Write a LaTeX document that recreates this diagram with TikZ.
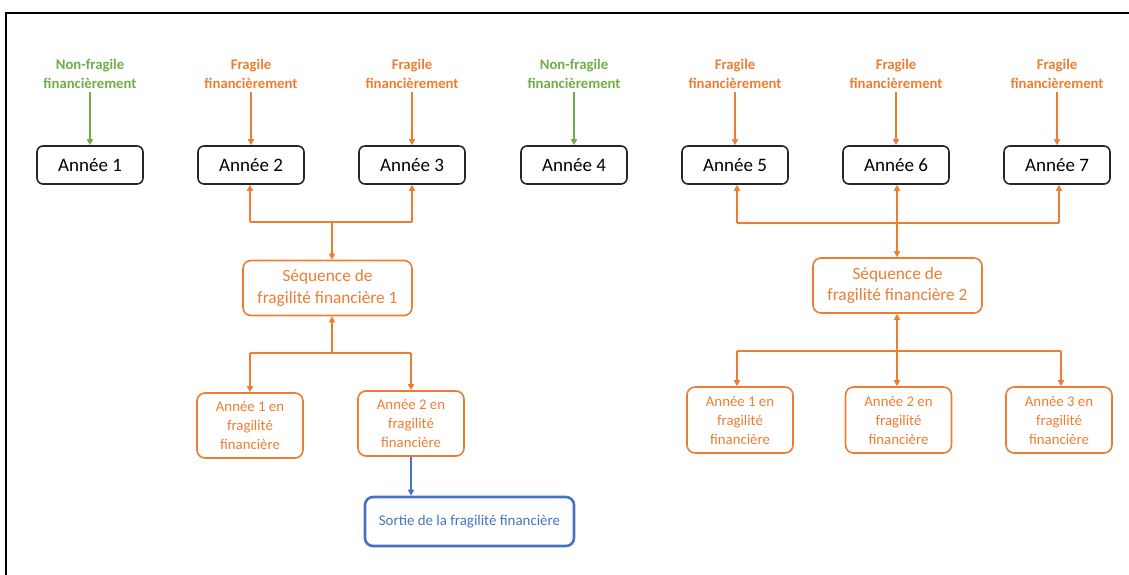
\documentclass[tikz,border=0pt]{standalone}
\usepackage{fontspec}
\setmainfont{Carlito}
\usetikzlibrary{arrows.meta}
\definecolor{orangeC}{HTML}{ED7D31}
\definecolor{greenC}{HTML}{70AD47}
\definecolor{blueC}{HTML}{4472C4}
\definecolor{darkC}{HTML}{262626}
\tikzset{
  yearbox/.style={draw=darkC, line width=1.6pt, rounded corners=6pt, minimum width=106pt, minimum height=38pt, inner sep=0pt, font=\fontsize{19}{22}\selectfont, text=black},
  lbl/.style={font=\fontsize{14.7}{19}\selectfont\bfseries, align=center, inner xsep=0pt, inner ysep=4pt},
  seqbox/.style={draw=orangeC, line width=1.6pt, rounded corners=8pt, minimum width=169pt, minimum height=55pt, inner sep=0pt, align=center, text=orangeC, font=\fontsize{17.3}{21.6}\selectfont},
  subbox/.style={draw=orangeC, line width=1.6pt, rounded corners=8pt, minimum width=106pt, minimum height=65pt, inner sep=0pt, align=center, text=orangeC, font=\fontsize{14.8}{19}\selectfont},
  outbox/.style={draw=blueC, line width=2.6pt, rounded corners=8pt, minimum width=209pt, minimum height=49pt, inner sep=0pt, text=blueC, font=\fontsize{14.9}{18}\selectfont},
  arr/.style={line width=1.6pt, -{Triangle[length=6pt,width=6pt]}},
  darr/.style={line width=1.6pt, {Triangle[length=6pt,width=6pt]}-{Triangle[length=6pt,width=6pt]}},
  oline/.style={draw=orangeC, line width=1.6pt},
}
\begin{document}
\begin{tikzpicture}[x=1pt,y=-1pt]
\useasboundingbox (0,0) rectangle (1129,574);
\draw[black, line width=1.5pt] (6,590) -- (6,13) -- (1140,13);

% year boxes
\node[yearbox] (y1) at (90,165) {Année 1};
\node[yearbox] (y2) at (251,165) {Année 2};
\node[yearbox] (y3) at (412,165) {Année 3};
\node[yearbox] (y4) at (574,165) {Année 4};
\node[yearbox] (y5) at (735,165) {Année 5};
\node[yearbox] (y6) at (896,165) {Année 6};
\node[yearbox] (y7) at (1057,165) {Année 7};

% labels
\node[lbl, text=greenC] (l1) at (90,73.5) {Non-fragile\\financièrement};
\node[lbl, text=orangeC] (l2) at (251,73.5) {Fragile\\financièrement};
\node[lbl, text=orangeC] (l3) at (412,73.5) {Fragile\\financièrement};
\node[lbl, text=greenC] (l4) at (574,73.5) {Non-fragile\\financièrement};
\node[lbl, text=orangeC] (l5) at (735,73.5) {Fragile\\financièrement};
\node[lbl, text=orangeC] (l6) at (896,73.5) {Fragile\\financièrement};
\node[lbl, text=orangeC] (l7) at (1057,73.5) {Fragile\\financièrement};

\draw[arr, draw=greenC, fill=greenC] (l1.south) -- (y1.north);
\draw[arr, draw=orangeC, fill=orangeC] (l2.south) -- (y2.north);
\draw[arr, draw=orangeC, fill=orangeC] (l3.south) -- (y3.north);
\draw[arr, draw=greenC, fill=greenC] (l4.south) -- (y4.north);
\draw[arr, draw=orangeC, fill=orangeC] (l5.south) -- (y5.north);
\draw[arr, draw=orangeC, fill=orangeC] (l6.south) -- (y6.north);
\draw[arr, draw=orangeC, fill=orangeC] (l7.south) -- (y7.north);

% left sequence
\node[seqbox] (q1) at (327.5,288) {Séquence de\\fragilité financière 1};
\node[subbox] (s1) at (250,425.5) {Année 1 en\\fragilité\\financière};
\node[subbox] (s2) at (411,423.5) {Année 2 en\\fragilité\\financière};
\node[outbox] (o1) at (469.5,521.5) {Sortie de la fragilité financière};

\coordinate (a1) at (250,222);
\coordinate (a2) at (412,222);
\coordinate (aj) at (332,222);
\draw[oline] (a1) -- (a2);
\draw[arr, draw=orangeC, fill=orangeC] (a1) -- (a1 |- y2.south);
\draw[arr, draw=orangeC, fill=orangeC] (a2) -- (a2 |- y3.south);
\draw[arr, draw=orangeC, fill=orangeC] (aj) -- (aj |- q1.north);

\coordinate (b1) at (250,353);
\coordinate (b2) at (411,353);
\coordinate (bj) at (332,353);
\draw[oline] (b1) -- (b2);
\draw[arr, draw=orangeC, fill=orangeC] (bj) -- (bj |- q1.south);
\draw[arr, draw=orangeC, fill=orangeC] (b1) -- (b1 |- s1.north);
\draw[arr, draw=orangeC, fill=orangeC] (b2) -- (b2 |- s2.north);

\draw[arr, draw=blueC, fill=blueC] (s2.south) -- (s2.south |- o1.north);

% right sequence
\node[seqbox] (q2) at (897.5,285.5) {Séquence de\\fragilité financière 2};
\node[subbox, minimum height=66pt] (t1) at (740,420) {Année 1 en\\fragilité\\financière};
\node[subbox, minimum height=66pt] (t2) at (898.5,420) {Année 2 en\\fragilité\\financière};
\node[subbox, minimum height=66pt] (t3) at (1059,420) {Année 3 en\\fragilité\\financière};

\coordinate (c1) at (737,223);
\coordinate (c2) at (1059,223);
\coordinate (cj) at (897,223);
\draw[oline] (c1) -- (c2);
\draw[arr, draw=orangeC, fill=orangeC] (c1) -- (c1 |- y5.south);
\draw[arr, draw=orangeC, fill=orangeC] (c2) -- (c2 |- y7.south);
\draw[darr, draw=orangeC, fill=orangeC] (cj |- y6.south) -- (cj |- q2.north);

\coordinate (d1) at (737,351);
\coordinate (d2) at (1061,351);
\draw[oline] (d1) -- (d2);
\draw[arr, draw=orangeC, fill=orangeC] (d1) -- (d1 |- t1.north);
\draw[arr, draw=orangeC, fill=orangeC] (d2) -- (d2 |- t3.north);
\draw[darr, draw=orangeC, fill=orangeC] (cj |- q2.south) -- (cj |- t2.north);
\end{tikzpicture}
\end{document}
